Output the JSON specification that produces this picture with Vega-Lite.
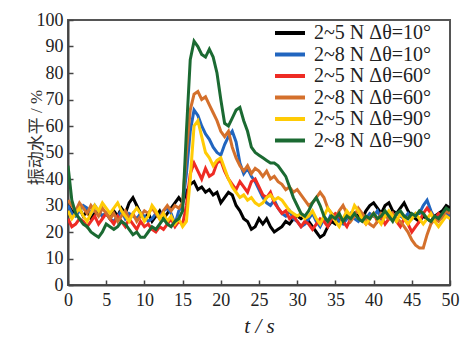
{
"$schema": "https://vega.github.io/schema/vega-lite/v6.json",
"width": 382, "height": 265,
"autosize": {"type": "none"},
"padding": {"left": 68, "top": 20, "right": 10, "bottom": 53},
"background": "white",
"config": {"view": {"stroke": "#555", "strokeWidth": 2}},
"data": {"values": [
{"g":"k","t":0,"v":30},{"g":"k","t":0.5,"v":28},{"g":"k","t":1,"v":27},{"g":"k","t":1.5,"v":29},{"g":"k","t":2,"v":26},{"g":"k","t":2.5,"v":28},{"g":"k","t":3,"v":25},{"g":"k","t":3.5,"v":27},{"g":"k","t":4,"v":28},{"g":"k","t":4.5,"v":26},
{"g":"k","t":5,"v":27},{"g":"k","t":5.5,"v":25},{"g":"k","t":6,"v":28},{"g":"k","t":6.5,"v":26},{"g":"k","t":7,"v":29},{"g":"k","t":7.5,"v":27},{"g":"k","t":8,"v":31},{"g":"k","t":8.5,"v":33},{"g":"k","t":9,"v":30},{"g":"k","t":9.5,"v":27},
{"g":"k","t":10,"v":25},{"g":"k","t":10.5,"v":27},{"g":"k","t":11,"v":24},{"g":"k","t":11.5,"v":26},{"g":"k","t":12,"v":28},{"g":"k","t":12.5,"v":25},{"g":"k","t":13,"v":27},{"g":"k","t":13.5,"v":29},{"g":"k","t":14,"v":31},{"g":"k","t":14.5,"v":33},
{"g":"k","t":15,"v":31},{"g":"k","t":15.5,"v":35},{"g":"k","t":16,"v":38},{"g":"k","t":16.5,"v":39},{"g":"k","t":17,"v":36},{"g":"k","t":17.5,"v":37},{"g":"k","t":18,"v":35},{"g":"k","t":18.5,"v":36},{"g":"k","t":19,"v":34},{"g":"k","t":19.5,"v":35},
{"g":"k","t":20,"v":31},{"g":"k","t":20.5,"v":33},{"g":"k","t":21,"v":35},{"g":"k","t":21.5,"v":34},{"g":"k","t":22,"v":30},{"g":"k","t":22.5,"v":28},{"g":"k","t":23,"v":25},{"g":"k","t":23.5,"v":24},{"g":"k","t":24,"v":21},{"g":"k","t":24.5,"v":22},
{"g":"k","t":25,"v":25},{"g":"k","t":25.5,"v":23},{"g":"k","t":26,"v":25},{"g":"k","t":26.5,"v":22},{"g":"k","t":27,"v":20},{"g":"k","t":27.5,"v":21},{"g":"k","t":28,"v":22},{"g":"k","t":28.5,"v":24},{"g":"k","t":29,"v":23},{"g":"k","t":29.5,"v":25},
{"g":"k","t":30,"v":26},{"g":"k","t":30.5,"v":25},{"g":"k","t":31,"v":26},{"g":"k","t":31.5,"v":24},{"g":"k","t":32,"v":22},{"g":"k","t":32.5,"v":20},{"g":"k","t":33,"v":18},{"g":"k","t":33.5,"v":19},{"g":"k","t":34,"v":22},{"g":"k","t":34.5,"v":24},
{"g":"k","t":35,"v":23},{"g":"k","t":35.5,"v":25},{"g":"k","t":36,"v":24},{"g":"k","t":36.5,"v":26},{"g":"k","t":37,"v":25},{"g":"k","t":37.5,"v":27},{"g":"k","t":38,"v":26},{"g":"k","t":38.5,"v":25},{"g":"k","t":39,"v":28},{"g":"k","t":39.5,"v":30},
{"g":"k","t":40,"v":31},{"g":"k","t":40.5,"v":29},{"g":"k","t":41,"v":27},{"g":"k","t":41.5,"v":30},{"g":"k","t":42,"v":31},{"g":"k","t":42.5,"v":28},{"g":"k","t":43,"v":27},{"g":"k","t":43.5,"v":29},{"g":"k","t":44,"v":31},{"g":"k","t":44.5,"v":28},
{"g":"k","t":45,"v":26},{"g":"k","t":45.5,"v":25},{"g":"k","t":46,"v":24},{"g":"k","t":46.5,"v":26},{"g":"k","t":47,"v":25},{"g":"k","t":47.5,"v":24},{"g":"k","t":48,"v":26},{"g":"k","t":48.5,"v":27},{"g":"k","t":49,"v":28},{"g":"k","t":49.5,"v":30},{"g":"k","t":50,"v":29},
{"g":"b","t":0,"v":30},{"g":"b","t":0.5,"v":27},{"g":"b","t":1,"v":26},{"g":"b","t":1.5,"v":28},{"g":"b","t":2,"v":30},{"g":"b","t":2.5,"v":29},{"g":"b","t":3,"v":27},{"g":"b","t":3.5,"v":30},{"g":"b","t":4,"v":28},{"g":"b","t":4.5,"v":26},
{"g":"b","t":5,"v":27},{"g":"b","t":5.5,"v":25},{"g":"b","t":6,"v":24},{"g":"b","t":6.5,"v":26},{"g":"b","t":7,"v":28},{"g":"b","t":7.5,"v":25},{"g":"b","t":8,"v":27},{"g":"b","t":8.5,"v":26},{"g":"b","t":9,"v":25},{"g":"b","t":9.5,"v":27},
{"g":"b","t":10,"v":26},{"g":"b","t":10.5,"v":24},{"g":"b","t":11,"v":25},{"g":"b","t":11.5,"v":27},{"g":"b","t":12,"v":26},{"g":"b","t":12.5,"v":28},{"g":"b","t":13,"v":29},{"g":"b","t":13.5,"v":27},{"g":"b","t":14,"v":23},{"g":"b","t":14.5,"v":28},
{"g":"b","t":15,"v":30},{"g":"b","t":15.5,"v":42},{"g":"b","t":16,"v":58},{"g":"b","t":16.5,"v":66},{"g":"b","t":17,"v":64},{"g":"b","t":17.5,"v":60},{"g":"b","t":18,"v":57},{"g":"b","t":18.5,"v":55},{"g":"b","t":19,"v":52},{"g":"b","t":19.5,"v":50},
{"g":"b","t":20,"v":49},{"g":"b","t":20.5,"v":53},{"g":"b","t":21,"v":56},{"g":"b","t":21.5,"v":58},{"g":"b","t":22,"v":54},{"g":"b","t":22.5,"v":46},{"g":"b","t":23,"v":42},{"g":"b","t":23.5,"v":44},{"g":"b","t":24,"v":41},{"g":"b","t":24.5,"v":39},
{"g":"b","t":25,"v":36},{"g":"b","t":25.5,"v":33},{"g":"b","t":26,"v":31},{"g":"b","t":26.5,"v":30},{"g":"b","t":27,"v":32},{"g":"b","t":27.5,"v":29},{"g":"b","t":28,"v":27},{"g":"b","t":28.5,"v":26},{"g":"b","t":29,"v":28},{"g":"b","t":29.5,"v":25},
{"g":"b","t":30,"v":24},{"g":"b","t":30.5,"v":22},{"g":"b","t":31,"v":23},{"g":"b","t":31.5,"v":25},{"g":"b","t":32,"v":27},{"g":"b","t":32.5,"v":24},{"g":"b","t":33,"v":22},{"g":"b","t":33.5,"v":25},{"g":"b","t":34,"v":24},{"g":"b","t":34.5,"v":27},
{"g":"b","t":35,"v":26},{"g":"b","t":35.5,"v":24},{"g":"b","t":36,"v":23},{"g":"b","t":36.5,"v":25},{"g":"b","t":37,"v":27},{"g":"b","t":37.5,"v":25},{"g":"b","t":38,"v":24},{"g":"b","t":38.5,"v":26},{"g":"b","t":39,"v":25},{"g":"b","t":39.5,"v":27},
{"g":"b","t":40,"v":26},{"g":"b","t":40.5,"v":28},{"g":"b","t":41,"v":25},{"g":"b","t":41.5,"v":27},{"g":"b","t":42,"v":26},{"g":"b","t":42.5,"v":25},{"g":"b","t":43,"v":27},{"g":"b","t":43.5,"v":26},{"g":"b","t":44,"v":25},{"g":"b","t":44.5,"v":27},
{"g":"b","t":45,"v":25},{"g":"b","t":45.5,"v":27},{"g":"b","t":46,"v":27},{"g":"b","t":46.5,"v":30},{"g":"b","t":47,"v":32},{"g":"b","t":47.5,"v":28},{"g":"b","t":48,"v":25},{"g":"b","t":48.5,"v":26},{"g":"b","t":49,"v":25},{"g":"b","t":49.5,"v":27},{"g":"b","t":50,"v":26},
{"g":"r","t":0,"v":25},{"g":"r","t":0.5,"v":22},{"g":"r","t":1,"v":23},{"g":"r","t":1.5,"v":25},{"g":"r","t":2,"v":24},{"g":"r","t":2.5,"v":22},{"g":"r","t":3,"v":24},{"g":"r","t":3.5,"v":26},{"g":"r","t":4,"v":23},{"g":"r","t":4.5,"v":25},
{"g":"r","t":5,"v":27},{"g":"r","t":5.5,"v":25},{"g":"r","t":6,"v":23},{"g":"r","t":6.5,"v":26},{"g":"r","t":7,"v":24},{"g":"r","t":7.5,"v":22},{"g":"r","t":8,"v":25},{"g":"r","t":8.5,"v":23},{"g":"r","t":9,"v":21},{"g":"r","t":9.5,"v":24},
{"g":"r","t":10,"v":22},{"g":"r","t":10.5,"v":23},{"g":"r","t":11,"v":21},{"g":"r","t":11.5,"v":20},{"g":"r","t":12,"v":22},{"g":"r","t":12.5,"v":21},{"g":"r","t":13,"v":23},{"g":"r","t":13.5,"v":25},{"g":"r","t":14,"v":22},{"g":"r","t":14.5,"v":24},
{"g":"r","t":15,"v":23},{"g":"r","t":15.5,"v":30},{"g":"r","t":16,"v":42},{"g":"r","t":16.5,"v":46},{"g":"r","t":17,"v":43},{"g":"r","t":17.5,"v":40},{"g":"r","t":18,"v":44},{"g":"r","t":18.5,"v":41},{"g":"r","t":19,"v":42},{"g":"r","t":19.5,"v":46},
{"g":"r","t":20,"v":47},{"g":"r","t":20.5,"v":43},{"g":"r","t":21,"v":40},{"g":"r","t":21.5,"v":38},{"g":"r","t":22,"v":36},{"g":"r","t":22.5,"v":39},{"g":"r","t":23,"v":37},{"g":"r","t":23.5,"v":35},{"g":"r","t":24,"v":39},{"g":"r","t":24.5,"v":40},
{"g":"r","t":25,"v":37},{"g":"r","t":25.5,"v":34},{"g":"r","t":26,"v":33},{"g":"r","t":26.5,"v":35},{"g":"r","t":27,"v":31},{"g":"r","t":27.5,"v":29},{"g":"r","t":28,"v":27},{"g":"r","t":28.5,"v":28},{"g":"r","t":29,"v":25},{"g":"r","t":29.5,"v":26},
{"g":"r","t":30,"v":24},{"g":"r","t":30.5,"v":22},{"g":"r","t":31,"v":24},{"g":"r","t":31.5,"v":23},{"g":"r","t":32,"v":21},{"g":"r","t":32.5,"v":23},{"g":"r","t":33,"v":25},{"g":"r","t":33.5,"v":24},{"g":"r","t":34,"v":22},{"g":"r","t":34.5,"v":25},
{"g":"r","t":35,"v":27},{"g":"r","t":35.5,"v":26},{"g":"r","t":36,"v":24},{"g":"r","t":36.5,"v":22},{"g":"r","t":37,"v":25},{"g":"r","t":37.5,"v":27},{"g":"r","t":38,"v":28},{"g":"r","t":38.5,"v":25},{"g":"r","t":39,"v":23},{"g":"r","t":39.5,"v":25},
{"g":"r","t":40,"v":27},{"g":"r","t":40.5,"v":24},{"g":"r","t":41,"v":26},{"g":"r","t":41.5,"v":23},{"g":"r","t":42,"v":25},{"g":"r","t":42.5,"v":27},{"g":"r","t":43,"v":24},{"g":"r","t":43.5,"v":22},{"g":"r","t":44,"v":25},{"g":"r","t":44.5,"v":23},
{"g":"r","t":45,"v":20},{"g":"r","t":45.5,"v":22},{"g":"r","t":46,"v":24},{"g":"r","t":46.5,"v":27},{"g":"r","t":47,"v":29},{"g":"r","t":47.5,"v":27},{"g":"r","t":48,"v":25},{"g":"r","t":48.5,"v":27},{"g":"r","t":49,"v":26},{"g":"r","t":49.5,"v":28},{"g":"r","t":50,"v":27},
{"g":"o","t":0,"v":32},{"g":"o","t":0.5,"v":30},{"g":"o","t":1,"v":28},{"g":"o","t":1.5,"v":31},{"g":"o","t":2,"v":29},{"g":"o","t":2.5,"v":27},{"g":"o","t":3,"v":30},{"g":"o","t":3.5,"v":28},{"g":"o","t":4,"v":26},{"g":"o","t":4.5,"v":29},
{"g":"o","t":5,"v":27},{"g":"o","t":5.5,"v":25},{"g":"o","t":6,"v":27},{"g":"o","t":6.5,"v":24},{"g":"o","t":7,"v":26},{"g":"o","t":7.5,"v":28},{"g":"o","t":8,"v":25},{"g":"o","t":8.5,"v":27},{"g":"o","t":9,"v":24},{"g":"o","t":9.5,"v":26},
{"g":"o","t":10,"v":28},{"g":"o","t":10.5,"v":27},{"g":"o","t":11,"v":29},{"g":"o","t":11.5,"v":27},{"g":"o","t":12,"v":25},{"g":"o","t":12.5,"v":28},{"g":"o","t":13,"v":30},{"g":"o","t":13.5,"v":28},{"g":"o","t":14,"v":30},{"g":"o","t":14.5,"v":29},
{"g":"o","t":15,"v":31},{"g":"o","t":15.5,"v":50},{"g":"o","t":16,"v":66},{"g":"o","t":16.5,"v":72},{"g":"o","t":17,"v":73},{"g":"o","t":17.5,"v":70},{"g":"o","t":18,"v":71},{"g":"o","t":18.5,"v":68},{"g":"o","t":19,"v":65},{"g":"o","t":19.5,"v":62},
{"g":"o","t":20,"v":58},{"g":"o","t":20.5,"v":56},{"g":"o","t":21,"v":58},{"g":"o","t":21.5,"v":52},{"g":"o","t":22,"v":48},{"g":"o","t":22.5,"v":45},{"g":"o","t":23,"v":43},{"g":"o","t":23.5,"v":45},{"g":"o","t":24,"v":42},{"g":"o","t":24.5,"v":44},
{"g":"o","t":25,"v":43},{"g":"o","t":25.5,"v":41},{"g":"o","t":26,"v":43},{"g":"o","t":26.5,"v":40},{"g":"o","t":27,"v":41},{"g":"o","t":27.5,"v":39},{"g":"o","t":28,"v":38},{"g":"o","t":28.5,"v":36},{"g":"o","t":29,"v":37},{"g":"o","t":29.5,"v":35},
{"g":"o","t":30,"v":36},{"g":"o","t":30.5,"v":34},{"g":"o","t":31,"v":32},{"g":"o","t":31.5,"v":30},{"g":"o","t":32,"v":31},{"g":"o","t":32.5,"v":33},{"g":"o","t":33,"v":35},{"g":"o","t":33.5,"v":33},{"g":"o","t":34,"v":29},{"g":"o","t":34.5,"v":27},
{"g":"o","t":35,"v":25},{"g":"o","t":35.5,"v":28},{"g":"o","t":36,"v":30},{"g":"o","t":36.5,"v":27},{"g":"o","t":37,"v":24},{"g":"o","t":37.5,"v":26},{"g":"o","t":38,"v":29},{"g":"o","t":38.5,"v":27},{"g":"o","t":39,"v":25},{"g":"o","t":39.5,"v":23},
{"g":"o","t":40,"v":22},{"g":"o","t":40.5,"v":24},{"g":"o","t":41,"v":27},{"g":"o","t":41.5,"v":26},{"g":"o","t":42,"v":25},{"g":"o","t":42.5,"v":27},{"g":"o","t":43,"v":25},{"g":"o","t":43.5,"v":24},{"g":"o","t":44,"v":22},{"g":"o","t":44.5,"v":20},
{"g":"o","t":45,"v":17},{"g":"o","t":45.5,"v":15},{"g":"o","t":46,"v":14},{"g":"o","t":46.5,"v":14},{"g":"o","t":47,"v":19},{"g":"o","t":47.5,"v":23},{"g":"o","t":48,"v":25},{"g":"o","t":48.5,"v":24},{"g":"o","t":49,"v":26},{"g":"o","t":49.5,"v":28},{"g":"o","t":50,"v":27},
{"g":"y","t":0,"v":28},{"g":"y","t":0.5,"v":25},{"g":"y","t":1,"v":27},{"g":"y","t":1.5,"v":29},{"g":"y","t":2,"v":26},{"g":"y","t":2.5,"v":24},{"g":"y","t":3,"v":27},{"g":"y","t":3.5,"v":30},{"g":"y","t":4,"v":28},{"g":"y","t":4.5,"v":31},
{"g":"y","t":5,"v":29},{"g":"y","t":5.5,"v":27},{"g":"y","t":6,"v":29},{"g":"y","t":6.5,"v":31},{"g":"y","t":7,"v":28},{"g":"y","t":7.5,"v":26},{"g":"y","t":8,"v":24},{"g":"y","t":8.5,"v":27},{"g":"y","t":9,"v":29},{"g":"y","t":9.5,"v":27},
{"g":"y","t":10,"v":24},{"g":"y","t":10.5,"v":26},{"g":"y","t":11,"v":30},{"g":"y","t":11.5,"v":28},{"g":"y","t":12,"v":25},{"g":"y","t":12.5,"v":27},{"g":"y","t":13,"v":24},{"g":"y","t":13.5,"v":26},{"g":"y","t":14,"v":23},{"g":"y","t":14.5,"v":25},
{"g":"y","t":15,"v":22},{"g":"y","t":15.5,"v":24},{"g":"y","t":16,"v":40},{"g":"y","t":16.5,"v":60},{"g":"y","t":17,"v":62},{"g":"y","t":17.5,"v":56},{"g":"y","t":18,"v":50},{"g":"y","t":18.5,"v":48},{"g":"y","t":19,"v":45},{"g":"y","t":19.5,"v":47},
{"g":"y","t":20,"v":48},{"g":"y","t":20.5,"v":44},{"g":"y","t":21,"v":40},{"g":"y","t":21.5,"v":37},{"g":"y","t":22,"v":35},{"g":"y","t":22.5,"v":33},{"g":"y","t":23,"v":34},{"g":"y","t":23.5,"v":32},{"g":"y","t":24,"v":33},{"g":"y","t":24.5,"v":31},
{"g":"y","t":25,"v":30},{"g":"y","t":25.5,"v":31},{"g":"y","t":26,"v":33},{"g":"y","t":26.5,"v":34},{"g":"y","t":27,"v":32},{"g":"y","t":27.5,"v":33},{"g":"y","t":28,"v":32},{"g":"y","t":28.5,"v":30},{"g":"y","t":29,"v":28},{"g":"y","t":29.5,"v":27},
{"g":"y","t":30,"v":26},{"g":"y","t":30.5,"v":27},{"g":"y","t":31,"v":25},{"g":"y","t":31.5,"v":26},{"g":"y","t":32,"v":28},{"g":"y","t":32.5,"v":25},{"g":"y","t":33,"v":23},{"g":"y","t":33.5,"v":26},{"g":"y","t":34,"v":29},{"g":"y","t":34.5,"v":27},
{"g":"y","t":35,"v":24},{"g":"y","t":35.5,"v":22},{"g":"y","t":36,"v":25},{"g":"y","t":36.5,"v":28},{"g":"y","t":37,"v":26},{"g":"y","t":37.5,"v":30},{"g":"y","t":38,"v":28},{"g":"y","t":38.5,"v":25},{"g":"y","t":39,"v":23},{"g":"y","t":39.5,"v":25},
{"g":"y","t":40,"v":27},{"g":"y","t":40.5,"v":25},{"g":"y","t":41,"v":23},{"g":"y","t":41.5,"v":26},{"g":"y","t":42,"v":28},{"g":"y","t":42.5,"v":26},{"g":"y","t":43,"v":24},{"g":"y","t":43.5,"v":27},{"g":"y","t":44,"v":25},{"g":"y","t":44.5,"v":23},
{"g":"y","t":45,"v":25},{"g":"y","t":45.5,"v":27},{"g":"y","t":46,"v":25},{"g":"y","t":46.5,"v":23},{"g":"y","t":47,"v":25},{"g":"y","t":47.5,"v":27},{"g":"y","t":48,"v":24},{"g":"y","t":48.5,"v":22},{"g":"y","t":49,"v":24},{"g":"y","t":49.5,"v":26},{"g":"y","t":50,"v":25},
{"g":"g","t":0,"v":45},{"g":"g","t":0.5,"v":32},{"g":"g","t":1,"v":27},{"g":"g","t":1.5,"v":25},{"g":"g","t":2,"v":23},{"g":"g","t":2.5,"v":22},{"g":"g","t":3,"v":20},{"g":"g","t":3.5,"v":19},{"g":"g","t":4,"v":18},{"g":"g","t":4.5,"v":20},
{"g":"g","t":5,"v":23},{"g":"g","t":5.5,"v":22},{"g":"g","t":6,"v":21},{"g":"g","t":6.5,"v":22},{"g":"g","t":7,"v":24},{"g":"g","t":7.5,"v":23},{"g":"g","t":8,"v":21},{"g":"g","t":8.5,"v":19},{"g":"g","t":9,"v":20},{"g":"g","t":9.5,"v":18},
{"g":"g","t":10,"v":18},{"g":"g","t":10.5,"v":20},{"g":"g","t":11,"v":22},{"g":"g","t":11.5,"v":21},{"g":"g","t":12,"v":23},{"g":"g","t":12.5,"v":25},{"g":"g","t":13,"v":23},{"g":"g","t":13.5,"v":22},{"g":"g","t":14,"v":24},{"g":"g","t":14.5,"v":25},
{"g":"g","t":15,"v":28},{"g":"g","t":15.5,"v":58},{"g":"g","t":16,"v":85},{"g":"g","t":16.5,"v":92},{"g":"g","t":17,"v":90},{"g":"g","t":17.5,"v":87},{"g":"g","t":18,"v":86},{"g":"g","t":18.5,"v":89},{"g":"g","t":19,"v":86},{"g":"g","t":19.5,"v":80},
{"g":"g","t":20,"v":70},{"g":"g","t":20.5,"v":61},{"g":"g","t":21,"v":60},{"g":"g","t":21.5,"v":63},{"g":"g","t":22,"v":66},{"g":"g","t":22.5,"v":67},{"g":"g","t":23,"v":62},{"g":"g","t":23.5,"v":58},{"g":"g","t":24,"v":52},{"g":"g","t":24.5,"v":50},
{"g":"g","t":25,"v":49},{"g":"g","t":25.5,"v":48},{"g":"g","t":26,"v":47},{"g":"g","t":26.5,"v":46},{"g":"g","t":27,"v":46},{"g":"g","t":27.5,"v":45},{"g":"g","t":28,"v":43},{"g":"g","t":28.5,"v":41},{"g":"g","t":29,"v":37},{"g":"g","t":29.5,"v":33},
{"g":"g","t":30,"v":30},{"g":"g","t":30.5,"v":27},{"g":"g","t":31,"v":26},{"g":"g","t":31.5,"v":28},{"g":"g","t":32,"v":31},{"g":"g","t":32.5,"v":33},{"g":"g","t":33,"v":30},{"g":"g","t":33.5,"v":26},{"g":"g","t":34,"v":24},{"g":"g","t":34.5,"v":26},
{"g":"g","t":35,"v":25},{"g":"g","t":35.5,"v":27},{"g":"g","t":36,"v":24},{"g":"g","t":36.5,"v":26},{"g":"g","t":37,"v":25},{"g":"g","t":37.5,"v":27},{"g":"g","t":38,"v":25},{"g":"g","t":38.5,"v":24},{"g":"g","t":39,"v":26},{"g":"g","t":39.5,"v":25},
{"g":"g","t":40,"v":27},{"g":"g","t":40.5,"v":25},{"g":"g","t":41,"v":26},{"g":"g","t":41.5,"v":28},{"g":"g","t":42,"v":26},{"g":"g","t":42.5,"v":24},{"g":"g","t":43,"v":27},{"g":"g","t":43.5,"v":28},{"g":"g","t":44,"v":26},{"g":"g","t":44.5,"v":25},
{"g":"g","t":45,"v":27},{"g":"g","t":45.5,"v":26},{"g":"g","t":46,"v":28},{"g":"g","t":46.5,"v":27},{"g":"g","t":47,"v":25},{"g":"g","t":47.5,"v":24},{"g":"g","t":48,"v":26},{"g":"g","t":48.5,"v":25},{"g":"g","t":49,"v":27},{"g":"g","t":49.5,"v":29},{"g":"g","t":50,"v":28}
]},
"mark": {"type": "line", "strokeWidth": 3, "clip": true},
"encoding": {
  "x": {"field": "t", "type": "quantitative",
    "scale": {"domain": [0, 50], "nice": false},
    "axis": {"values": [0,5,10,15,20,25,30,35,40,45,50], "grid": false, "tickSize": -5, "tickColor": "#444", "tickWidth": 1.5,
      "domainColor": "#444", "domainWidth": 2, "labelFont": "Liberation Serif", "labelFontSize": 18, "labelColor": "#222",
      "labelPadding": 11, "labelFlush": false,
      "title": "t / s", "titleFont": "Liberation Serif", "titleFontSize": 21, "titleFontWeight": "normal", "titleFontStyle": "italic", "titleColor": "#222", "titlePadding": 6}},
  "y": {"field": "v", "type": "quantitative",
    "scale": {"domain": [0, 100], "nice": false},
    "axis": {"values": [0,10,20,30,40,50,60,70,80,90,100], "grid": false, "tickSize": -5, "tickColor": "#444", "tickWidth": 1.5,
      "domainColor": "#444", "domainWidth": 2, "labelFont": "Liberation Serif", "labelFontSize": 18, "labelColor": "#222",
      "labelPadding": 10, "labelFlush": false,
      "title": "振动水平 / %", "titleFont": "Liberation Serif, Noto Sans CJK SC", "titleFontSize": 17, "titleFontWeight": "normal", "titleColor": "#333",
      "titleX": -27, "titleY": 117, "titleAngle": -90, "titleAlign": "center", "titleBaseline": "alphabetic"}},
  "color": {"field": "g", "type": "nominal",
    "scale": {"domain": ["k","b","r","o","y","g"], "range": ["#000000","#2165bf","#ee2b24","#d4702c","#ffcb05","#1b6a32"]},
    "legend": {"orient": "none", "legendX": 212, "legendY": 3, "title": null,
      "labelExpr": "{'k':'2~5 N Δθ=10°','b':'2~8 N Δθ=10°','r':'2~5 N Δθ=60°','o':'2~8 N Δθ=60°','y':'2~5 N Δθ=90°','g':'2~8 N Δθ=90°'}[datum.value]",
      "symbolType": "M-2,0H2", "symbolSize": 225, "symbolStrokeWidth": 4, "labelFont": "Liberation Serif", "labelFontSize": 20, "labelColor": "#222",
      "labelOffset": 14, "rowPadding": 1.5, "padding": 0}}
}
}
